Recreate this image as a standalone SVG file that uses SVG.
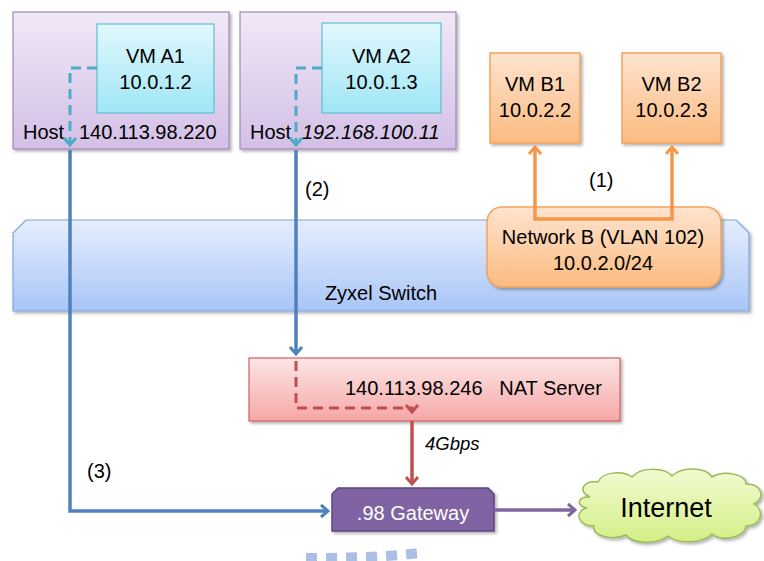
<svg xmlns="http://www.w3.org/2000/svg" width="764" height="561" viewBox="0 0 764 561">
  <defs>
    <linearGradient id="gHost" x1="0" y1="0" x2="0" y2="1">
      <stop offset="0" stop-color="#f1e9f7"/>
      <stop offset="1" stop-color="#d3bfe6"/>
    </linearGradient>
    <linearGradient id="gVmA" x1="0" y1="0" x2="0" y2="1">
      <stop offset="0" stop-color="#e2f8fd"/>
      <stop offset="1" stop-color="#9fe6f6"/>
    </linearGradient>
    <linearGradient id="gOrange" x1="0" y1="0" x2="0" y2="1">
      <stop offset="0" stop-color="#fee3cf"/>
      <stop offset="1" stop-color="#fbbb80"/>
    </linearGradient>
    <linearGradient id="gSwitch" x1="0" y1="0" x2="0" y2="1">
      <stop offset="0" stop-color="#e6eefd"/>
      <stop offset="1" stop-color="#a8c5f7"/>
    </linearGradient>
    <linearGradient id="gNat" x1="0" y1="0" x2="0" y2="1">
      <stop offset="0" stop-color="#fde6e6"/>
      <stop offset="1" stop-color="#f6a7a7"/>
    </linearGradient>
    <linearGradient id="gCloud" x1="0" y1="0" x2="0" y2="1">
      <stop offset="0" stop-color="#f2fbd2"/>
      <stop offset="1" stop-color="#d3ef86"/>
    </linearGradient>
    <filter id="shadow" x="-10%" y="-10%" width="125%" height="130%">
      <feDropShadow dx="2" dy="2" stdDeviation="1.5" flood-color="#000" flood-opacity="0.3"/>
    </filter>
    <marker id="arrBlue" markerUnits="userSpaceOnUse" markerWidth="16" markerHeight="16" refX="9" refY="7" orient="auto-start-reverse" viewBox="0 0 16 14">
      <path d="M2,1 L9,7 L2,13" fill="none" stroke="#4f81bd" stroke-width="3"/>
    </marker>
    <marker id="arrTeal" markerUnits="userSpaceOnUse" markerWidth="16" markerHeight="16" refX="9" refY="7" orient="auto-start-reverse" viewBox="0 0 16 14">
      <path d="M2,1 L9,7 L2,13" fill="none" stroke="#4bacc6" stroke-width="3"/>
    </marker>
    <marker id="arrRed" markerUnits="userSpaceOnUse" markerWidth="16" markerHeight="16" refX="9" refY="7" orient="auto-start-reverse" viewBox="0 0 16 14">
      <path d="M2,1 L9,7 L2,13" fill="none" stroke="#c0504d" stroke-width="3"/>
    </marker>
    <marker id="arrOrange" markerUnits="userSpaceOnUse" markerWidth="16" markerHeight="16" refX="9" refY="7" orient="auto-start-reverse" viewBox="0 0 16 14">
      <path d="M2,1 L9,7 L2,13" fill="none" stroke="#f79646" stroke-width="3"/>
    </marker>
    <marker id="arrPurple" markerUnits="userSpaceOnUse" markerWidth="16" markerHeight="16" refX="9" refY="7" orient="auto-start-reverse" viewBox="0 0 16 14">
      <path d="M2,1 L9,7 L2,13" fill="none" stroke="#8064a2" stroke-width="3"/>
    </marker>
  </defs>
  <style>
    text { font-family: "Liberation Sans", Arial, sans-serif; font-size: 20px; fill: #000; }
    .c { text-anchor: middle; }
    .it { font-style: italic; }
    .host { fill: url(#gHost); stroke: #9f88ba; stroke-width: 1.2; filter: url(#shadow); }
    .vma { fill: url(#gVmA); stroke: #5ebfd2; stroke-width: 1.2; }
    .orange { fill: url(#gOrange); stroke: #f5a25c; stroke-width: 1.5; filter: url(#shadow); }
    .wire { fill: none; stroke-width: 3.5; }
    .dash { fill: none; stroke-width: 3; stroke-dasharray: 10 6; }
  </style>

  <!-- hosts with their VMs -->
  <g id="hostA1">
    <rect class="host" x="13" y="12" width="216" height="137"/>
    <rect class="vma" x="97" y="24" width="117" height="89"/>
    <text class="c" x="155.5" y="63">VM A1</text>
    <text class="c" x="155.5" y="89">10.0.1.2</text>
    <text x="23" y="139">Host</text>
    <text x="79" y="139">140.113.98.220</text>
  </g>
  <g id="hostA2">
    <rect class="host" x="240" y="12" width="216" height="137"/>
    <rect class="vma" x="322" y="23" width="119" height="90"/>
    <text class="c" x="381.5" y="63">VM A2</text>
    <text class="c" x="381.5" y="89">10.0.1.3</text>
    <text x="250" y="139">Host</text>
    <text class="it" x="302" y="139">192.168.100.11</text>
  </g>

  <!-- VLAN 102 virtual machines -->
  <g id="vmB1">
    <rect class="orange" x="490" y="53" width="90" height="90"/>
    <text class="c" x="535" y="91">VM B1</text>
    <text class="c" x="535" y="117">10.0.2.2</text>
  </g>
  <g id="vmB2">
    <rect class="orange" x="622" y="53" width="99" height="90"/>
    <text class="c" x="671.5" y="91">VM B2</text>
    <text class="c" x="671.5" y="117">10.0.2.3</text>
  </g>

  <!-- switch -->
  <g id="switch">
    <path d="M13,233 L26,220 H736 L749,233 V311 H13 Z" fill="url(#gSwitch)" stroke="#7fa5dc" stroke-width="1.2" filter="url(#shadow)"/>
    <text class="c" x="381" y="300">Zyxel Switch</text>
  </g>

  <g id="networkB">
    <rect class="orange" x="487" y="207" width="234" height="80" rx="15" ry="15"/>
    <text class="c" x="603" y="244">Network B (VLAN 102)</text>
    <text class="c" x="603" y="270">10.0.2.0/24</text>
  </g>

  <!-- NAT server -->
  <g id="nat">
    <rect x="249" y="358" width="371" height="63" fill="url(#gNat)" stroke="#d0605f" stroke-width="1.2" filter="url(#shadow)"/>
    <text x="345" y="395" xml:space="preserve">140.113.98.246   NAT Server</text>
  </g>

  <!-- gateway -->
  <g id="gateway">
    <path d="M332,494 L338,488 H488 L494,494 V531 H332 Z" fill="#8064a2" stroke="#5d4682" stroke-width="1.5" filter="url(#shadow)"/>
    <text class="c" x="413" y="520" style="fill:#ffffff">.98 Gateway</text>
  </g>

  <!-- internet cloud -->
  <g id="internet">
    <path d="M590,497 C578,492 582,480 598,482 C602,472 622,470 632,477 C640,467 664,467 672,476 C682,466 706,467 712,477 C724,470 746,474 746,484 C762,484 766,498 754,504 C766,512 760,526 746,526 C744,538 722,542 712,534 C702,544 678,544 668,536 C656,545 632,544 626,535 C612,541 592,536 594,526 C578,526 574,512 586,508 C574,504 580,496 590,497 Z" fill="url(#gCloud)" stroke="#9bbb59" stroke-width="1.5" filter="url(#shadow)"/>
    <text class="c" x="666" y="517" style="font-size:27px">Internet</text>
  </g>

  <!-- connectors -->
  <g id="connectors">
    <path class="dash" d="M97,68 H70 V145" stroke="#4bacc6" marker-end="url(#arrTeal)"/>
    <path class="dash" d="M322,68 H296 V145" stroke="#4bacc6" marker-end="url(#arrTeal)"/>
    <path class="wire" d="M70,150 V511 H328" stroke="#4f81bd" marker-end="url(#arrBlue)"/>
    <path class="wire" d="M296,150 V354" stroke="#4f81bd" marker-end="url(#arrBlue)"/>
    <path class="wire" d="M535,147 V219 H672 V147" stroke="#f79646" marker-start="url(#arrOrange)" marker-end="url(#arrOrange)"/>
    <path class="dash" d="M296,361 V408 H412 V412" stroke="#c0504d" marker-end="url(#arrRed)"/>
    <path class="wire" d="M412,421 V484" stroke="#c0504d" stroke-width="3" marker-end="url(#arrRed)"/>
    <path class="wire" d="M494,510 H575" stroke="#8064a2" marker-end="url(#arrPurple)"/>
  </g>

  <!-- connector labels -->
  <text x="589" y="187">(1)</text>
  <text x="305" y="196">(2)</text>
  <text x="87" y="478">(3)</text>
  <text class="it" x="425" y="450" style="font-size:18.5px">4Gbps</text>

  <!-- faint dashed arc along the bottom edge -->
  <path d="M306,558 C345,558 385,557 420,553" fill="none" stroke="#aabfe3" stroke-width="10" stroke-dasharray="11 9"/>
</svg>
